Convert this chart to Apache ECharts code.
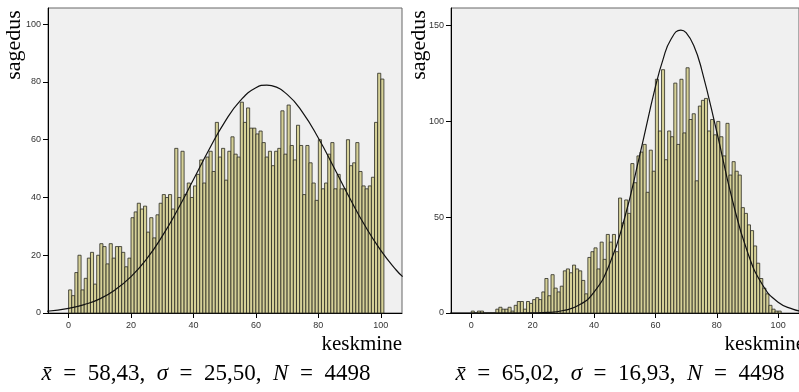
<!DOCTYPE html>
<html>
<head>
<meta charset="utf-8">
<script src="https://cdn.jsdelivr.net/npm/echarts@6/dist/echarts.min.js"></script>
<style>
  html, body { margin: 0; padding: 0; background: #fff; }
  #chart { width: 799px; height: 392px; }
</style>
</head>
<body>
<div id="chart"></div>
<script>
// bin k covers [k, k+1)
const binWidth = 1
const leftCounts = [
  8, 6, 14, 20, 8, 12, 19, 21, 10, 20,
  24, 23, 17, 24, 19, 23, 23, 21, 16, 19,
  33, 35, 38, 36, 37, 28, 33, 26, 34, 38,
  41, 40, 41, 36, 57, 40, 56, 41, 45, 40,
  44, 48, 53, 45, 54, 56, 49, 66, 54, 57,
  46, 56, 61, 55, 54, 73, 66, 71, 64, 64,
  62, 63, 59, 54, 56, 51, 56, 57, 70, 55,
  72, 58, 53, 65, 58, 41, 58, 52, 45, 39,
  60, 43, 45, 55, 59, 43, 48, 43, 43, 60,
  51, 52, 59, 49, 44, 43, 44, 47, 66, 83,
  81
]
const rightCounts = [
  1, 0, 1, 1, 0, 0, 0, 0, 2, 3,
  2, 2, 3, 1, 4, 6, 6, 2, 6, 5,
  7, 8, 7, 11, 18, 9, 20, 13, 11, 14,
  22, 23, 21, 25, 23, 22, 17, 10, 29, 32,
  34, 23, 37, 28, 41, 37, 41, 32, 60, 47,
  59, 52, 78, 68, 82, 84, 88, 63, 85, 74,
  122, 95, 127, 80, 95, 92, 120, 88, 122, 94,
  128, 101, 104, 69, 108, 111, 112, 95, 101, 93,
  100, 92, 82, 99, 72, 79, 74, 72, 55, 52,
  46, 43, 35, 26, 18, 13, 10, 4, 2, 1,
  1
]

// normal curves
const leftCurveX = [-7, 0, 5, 10, 15, 20, 25, 30, 35, 40, 45, 50, 55, 60, 63.5, 65, 70, 75, 80, 85, 90, 95, 100, 105, 107]
const leftCurveY = [0.6, 1.6, 2.9, 4.9, 8.1, 12.6, 18.7, 26.6, 35.9, 46.2, 56.6, 66.1, 73.5, 78.0, 78.9, 78.7, 75.7, 69.4, 60.6, 50.4, 39.9, 30.1, 21.7, 14.8, 12.6]
const rightCurveX = [-7, 0, 10, 20, 25, 30, 35, 40, 45, 50, 55, 60, 62.5, 65, 68.3, 70, 72.5, 75, 80, 85, 90, 95, 100, 105, 107]
const rightCurveY = [0, 0, 0, 0.1, 0.3, 1.3, 4.0, 10.9, 25.2, 49.7, 83.1, 118.0, 132.4, 142.6, 147.7, 146.3, 139.6, 127.6, 94.6, 59.6, 31.9, 14.5, 5.6, 1.9, 1.1]

const xTicks = [0, 20, 40, 60, 80, 100]
const leftYTicks = [0, 20, 40, 60, 80, 100]
const rightYTicks = [0, 50, 100, 150]

const leftStats = ['58,43', '25,50', '4498']
const rightStats = ['65,02', '16,93', '4498']

const chart = echarts.init(document.getElementById('chart'))

function histItem(params, api) {
  const x = api.value(0)
  const v = api.value(1)
  const p0 = api.coord([x, 0])
  const p1 = api.coord([x + binWidth, v])
  return {
    type: 'rect',
    shape: { x: p0[0], y: p1[1], width: p1[0] - p0[0], height: p0[1] - p1[1] },
    style: { fill: '#d6d198', stroke: '#2a2a22', lineWidth: 0.8 }
  }
}

function xAxisOpt(idx) {
  return {
    type: 'value', gridIndex: idx, min: -6.6, max: 106.8,
    axisLine: { show: true, onZero: false, lineStyle: { color: '#000', width: 1 } },
    axisTick: { show: true, length: 5, customValues: xTicks, lineStyle: { color: '#000' } },
    axisLabel: { customValues: xTicks, margin: 8, fontSize: 9, color: '#333', fontFamily: 'Liberation Sans' },
    splitLine: { show: false }
  }
}
function yAxisOpt(idx, max, ticks) {
  return {
    type: 'value', gridIndex: idx, min: 0, max: max,
    axisLine: { show: true, onZero: false, lineStyle: { color: '#000', width: 1 } },
    axisTick: { show: true, length: 5, customValues: ticks, lineStyle: { color: '#000' } },
    axisLabel: { customValues: ticks, margin: 7, fontSize: 9, color: '#333', fontFamily: 'Liberation Sans' },
    splitLine: { show: false }
  }
}

const serif = 'Liberation Serif'
const eq = '\u2002=\u2002'
function caption(x, stats) {
  return {
    type: 'text', x: x, y: 374,
    style: {
      text: '{i|x̄}' + eq + stats[0] + ',  {i|σ}' + eq + stats[1] + ',  {i|N}' + eq + stats[2],
      font: '23px ' + serif, fill: '#000', align: 'center', verticalAlign: 'middle',
      rich: { i: { fontStyle: 'italic', fontFamily: serif, fontSize: 23 } }
    }
  }
}

const option = {
  animation: false,
  grid: [
    { left: 48, top: 8, width: 354, height: 305, show: true, backgroundColor: '#f0f0f0', borderColor: '#666', borderWidth: 1 },
    { left: 451, top: 8, width: 354, height: 305, show: true, backgroundColor: '#f0f0f0', borderColor: '#666', borderWidth: 1 }
  ],
  xAxis: [xAxisOpt(0), xAxisOpt(1)],
  yAxis: [yAxisOpt(0, 105.6, leftYTicks), yAxisOpt(1, 159.2, rightYTicks)],
  series: [
    {
      type: 'custom', xAxisIndex: 0, yAxisIndex: 0, renderItem: histItem,
      data: leftCounts.map((v, i) => [i * binWidth, v])
    },
    {
      type: 'custom', xAxisIndex: 1, yAxisIndex: 1, renderItem: histItem,
      data: rightCounts.map((v, i) => [i * binWidth, v])
    },
    {
      type: 'line', xAxisIndex: 0, yAxisIndex: 0, smooth: true, showSymbol: false, z: 5,
      lineStyle: { color: '#111', width: 1.2 },
      data: leftCurveX.map((x, i) => [x, leftCurveY[i]])
    },
    {
      type: 'line', xAxisIndex: 1, yAxisIndex: 1, smooth: true, showSymbol: false, z: 5,
      lineStyle: { color: '#111', width: 1.2 },
      data: rightCurveX.map((x, i) => [x, rightCurveY[i]])
    }
  ],
  graphic: [
    { type: 'text', x: 14, y: 45, rotation: Math.PI / 2,
      style: { text: 'sagedus', font: '22px ' + serif, fill: '#000', align: 'center', verticalAlign: 'middle' } },
    { type: 'text', x: 419, y: 45, rotation: Math.PI / 2,
      style: { text: 'sagedus', font: '22px ' + serif, fill: '#000', align: 'center', verticalAlign: 'middle' } },
    { type: 'text', x: 402, y: 344,
      style: { text: 'keskmine', font: '21px ' + serif, fill: '#000', align: 'right', verticalAlign: 'middle' } },
    { type: 'text', x: 805, y: 344,
      style: { text: 'keskmine', font: '21px ' + serif, fill: '#000', align: 'right', verticalAlign: 'middle' } },
    caption(206, leftStats),
    caption(620, rightStats)
  ]
}
chart.setOption(option)
</script>
</body>
</html>
